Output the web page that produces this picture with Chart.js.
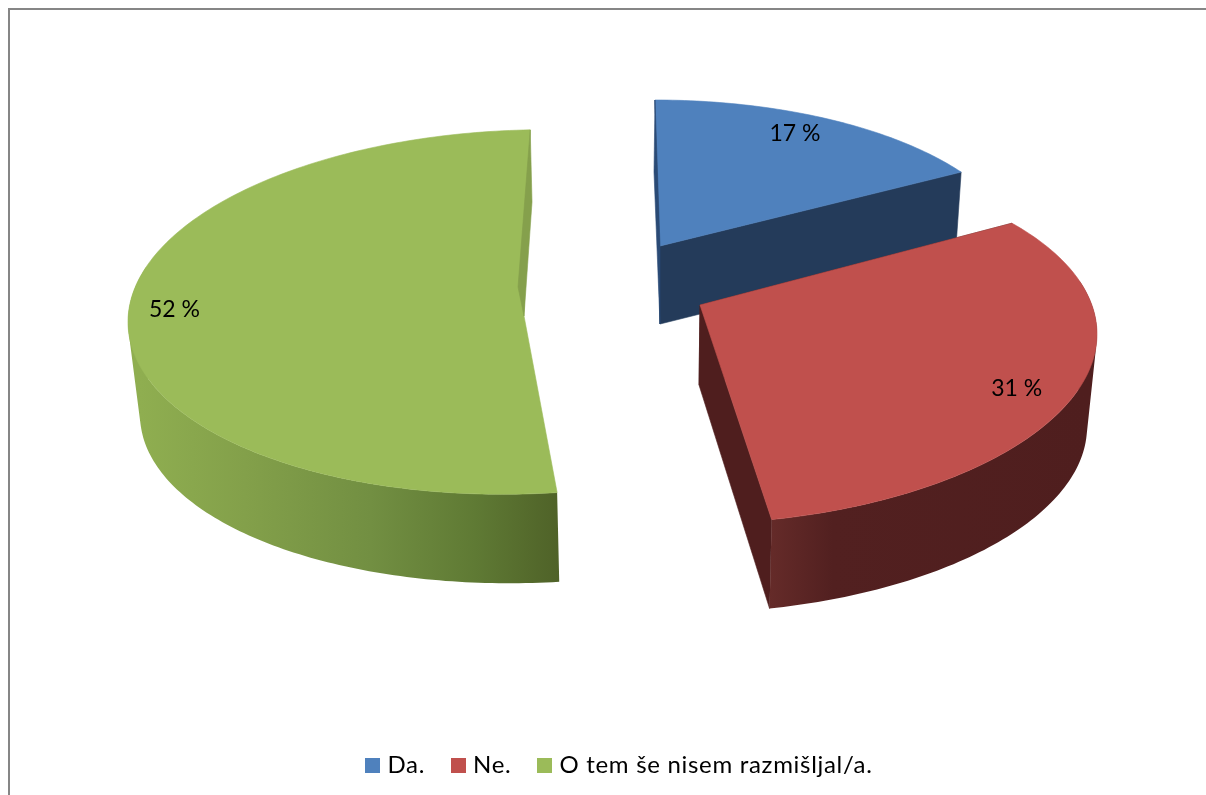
<!DOCTYPE html>
<html><head><meta charset="utf-8">
<style>html,body{margin:0;padding:0;background:#fff}canvas{display:block}</style>
<script src="https://cdn.jsdelivr.net/npm/chart.js@4"></script></head>
<body><div style="width:1206px;height:795px;position:relative"><canvas id="c"></canvas></div>
<script>
const categories = ['Da.', 'Ne.', 'O tem še nisem razmišljal/a.'];
const values = [17, 31, 52];
const topColors = ['#4f81bd', '#c0504d', '#9bbb59'];
const wallColors = ['#243b5a', '#4f1e1e', '#829f4b'];
const backColors = ['#2a4a75', '#4f1e1e', '#85a04c'];
const rimStops = [
  [[0,'#243b5a'],[1,'#243b5a']],
  [[0,'#652b29'],[0.2,'#522020'],[1,'#4f1e1e']],
  [[0,'#8fae50'],[0.25,'#83a04a'],[0.55,'#728f42'],[0.8,'#5f7a34'],[1,'#4f6228']]
];
// 3D view of each exploded slice (projection only, sweep comes from the arc elements)
const views = [
 {top:{cx:655,cy:262,rx:368,ry:162,k:0,ax:660,ay:246,t0:0,t1:56.3},
  base:{cx:657,cy:328,rx:345,ry:156,k:0,ax:660,ay:324,t0:0,t1:60},
  grad:[660,957], lab:{r:.8,dy:-11}},
 {top:{cx:700,cy:342,rx:397,ry:182,k:-.02,ax:700,ay:305,t0:51.8,t1:169.6},
  base:{cx:698,cy:435,rx:389,ry:178,k:-.02,ax:699,ay:385,t0:51.8,t1:169.4},
  grad:[769,1087], lab:{r:.853,dy:3}},
 {top:{cx:524,cy:312,rx:396,ry:182,k:-.025,ax:524,ay:316,t0:175.2,t1:360.9},
  base:{cx:530,cy:405,rx:390,ry:178,k:-.025,ax:518,ay:287,t0:175.7,t1:360.5,endX:532,endY:202},
  grad:[140,559], lab:{r:.883,dy:-17}}
];
const D = Math.PI/180;
function rimPoint(v, f){
  const t = (v.t0 + (v.t1 - v.t0)*f)*D;
  const dx = v.rx*Math.sin(t);
  return [v.cx + dx, v.cy - v.ry*Math.cos(t) + v.k*dx];
}
function rim(v, arc){
  // sweep sampled per degree of the arc computed by Chart.js
  const n = Math.max(8, Math.round((arc.endAngle - arc.startAngle)/D));
  const p = [];
  for(let i=0;i<=n;i++) p.push(rimPoint(v,i/n));
  return p;
}
function poly(ctx, pts, fill){
  ctx.beginPath();
  pts.forEach((p,i)=> i?ctx.lineTo(p[0],p[1]):ctx.moveTo(p[0],p[1]));
  ctx.closePath();
  ctx.fillStyle = fill; ctx.strokeStyle = fill; ctx.lineWidth = .6;
  ctx.fill(); ctx.stroke();
}
function area(q){
  let a=0;
  q.forEach((p,i)=>{const n=q[(i+1)%q.length]; a+=p[0]*n[1]-n[0]*p[1];});
  return a;
}
function swatch(color){
  const c = document.createElement('canvas');
  c.width = 15; c.height = 15;
  const x = c.getContext('2d');
  x.fillStyle = color; x.fillRect(0,0,15,15);
  return c;
}
const pie3d = {
  id:'pie3d',
  beforeUpdate(chart){ chart.ctx.letterSpacing = '0.7px'; },
  beforeDraw(chart){
    const {ctx} = chart;
    ctx.save();
    ctx.fillStyle='#868686';
    ctx.fillRect(8,8,1198,2);
    ctx.fillRect(8,8,2,787);
    ctx.restore();
  },
  beforeDatasetDraw(chart, args){
    const {ctx} = chart, meta = args.meta;
    ctx.save();
    ctx.letterSpacing = '0px';
    meta.data.forEach((arc,i)=>{
      const v = views[i], T = v.top, B = v.base;
      const tr = rim(T,arc), br = rim(B,arc);
      const bEnd = B.endX!==undefined ? [B.endX,B.endY] : br[br.length-1];
      const aT=[T.ax,T.ay], aB=[B.ax,B.ay];
      // inner walls
      if(i!==2){
        poly(ctx,[aT,tr[0],br[0],aB],wallColors[i]);
        poly(ctx,[aT,tr[tr.length-1],bEnd,aB],wallColors[i]);
      }
      // outer rim strip: segments facing the viewer, one path with a single winding
      const g = ctx.createLinearGradient(v.grad[0],0,v.grad[1],0);
      rimStops[i].forEach(s=>g.addColorStop(s[0],s[1]));
      ctx.beginPath();
      for(let s=0;s<tr.length-1;s++){
        const f=(s+.5)/(tr.length-1), t=(T.t0+(T.t1-T.t0)*f)*D;
        if(Math.cos(t)>.3) continue;
        let q=[tr[s],tr[s+1],br[s+1],br[s]];
        if(area(q)<0) q=q.reverse();
        q.forEach((p,j)=> j?ctx.lineTo(p[0],p[1]):ctx.moveTo(p[0],p[1]));
        ctx.closePath();
      }
      ctx.fillStyle=g; ctx.fill();
      // top face
      poly(ctx,[aT].concat(tr),topColors[i]);
      // thin back wall slivers
      if(i===2) poly(ctx,[tr[tr.length-1],bEnd,aT,aB],backColors[i]);
      if(i===0) poly(ctx,[tr[0],[654,172],aB,aT],backColors[i]);
    });
    // value labels
    ctx.fillStyle='#000';
    ctx.font='23px Lato';
    ctx.textAlign='center'; ctx.textBaseline='middle';
    meta.data.forEach((arc,i)=>{
      const v=views[i], T=v.top, L=v.lab;
      const m=rimPoint(T,.5);
      ctx.fillText(values[i]+' %', T.ax+(m[0]-T.ax)*L.r, T.ay+(m[1]-T.ay)*L.r+L.dy);
    });
    ctx.restore();
    return false;
  }
};
new Chart(document.getElementById('c'),{
  type:'pie',
  data:{labels:categories,datasets:[{data:values,backgroundColor:topColors,borderWidth:0}]},
  options:{
    responsive:true,maintainAspectRatio:false,animation:false,
    layout:{padding:{left:37,bottom:8}},
    plugins:{
      tooltip:{enabled:false},
      legend:{position:'bottom',labels:{
        usePointStyle:true,pointStyleWidth:5,boxHeight:15,padding:31,color:'#000',font:{family:'Lato',size:24},
        generateLabels(chart){
          return categories.map((name,i)=>({text:name,index:i,pointStyle:swatch(topColors[i]),fillStyle:topColors[i],strokeStyle:topColors[i],lineWidth:0,fontColor:'#000'}));
        }
      }}
    }
  },
  plugins:[pie3d]
});
</script></body></html>
